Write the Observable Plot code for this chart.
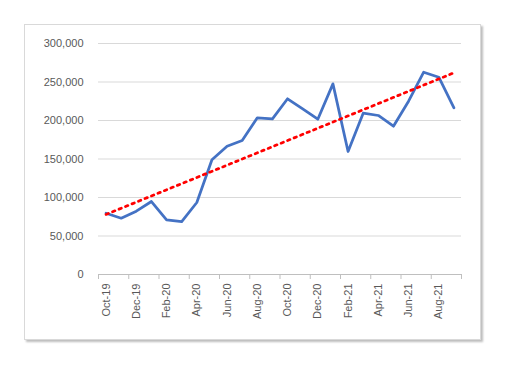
<!DOCTYPE html>
<html>
<head>
<meta charset="utf-8">
<script src="https://cdn.jsdelivr.net/npm/d3@7"></script>
<script src="https://cdn.jsdelivr.net/npm/@observablehq/plot@0.6"></script>
<style>
  html, body { margin: 0; padding: 0; background: #fff; }
  #wrap { position: relative; width: 512px; height: 369px; }
  #frame { position: absolute; left: 24px; top: 24px; width: 455px; height: 314px;
           border: 1px solid #d9d9d9; box-shadow: 2px 2px 2px #bdbdbd; background: #fff; }
  #chart { position: absolute; left: 0; top: 0; }
</style>
</head>
<body>
<div id="wrap"><div id="frame"></div><div id="chart"></div></div>
<script>
const months = ["Oct-19","Nov-19","Dec-19","Jan-20","Feb-20","Mar-20","Apr-20","May-20","Jun-20","Jul-20","Aug-20","Sep-20",
                "Oct-20","Nov-20","Dec-20","Jan-21","Feb-21","Mar-21","Apr-21","May-21","Jun-21","Jul-21","Aug-21","Sep-21"];
const values = [79600, 73100, 82200, 94800, 71000, 68800, 93500, 149000, 166600, 174000, 203500, 202200,
                228200, 215200, 201700, 247600, 159700, 209500, 206500, 192600, 225100, 262700, 256200, 216500];
const yTicks = [0, 50000, 100000, 150000, 200000, 250000, 300000];
const labelIdx = months.map((d, i) => i).filter(i => i % 2 === 0);
const boundaries = d3.range(-0.5, 24, 2);

const data = months.map((m, i) => ({i, month: m, value: values[i]}));

const chart = Plot.plot({
  width: 512,
  height: 369,
  marginLeft: 98,
  marginRight: 51,
  marginTop: 43,
  marginBottom: 95,
  style: {fontFamily: "'Liberation Sans', Arial, sans-serif", fontSize: "11px", color: "#595959", background: "transparent"},
  x: {type: "linear", domain: [-0.5, 23.5]},
  y: {domain: [0, 300000]},
  marks: [
    Plot.gridY(yTicks, {stroke: "#d9d9d9", strokeOpacity: 1}),
    Plot.ruleY([0], {stroke: "#bfbfbf"}),
    Plot.axisY(yTicks, {tickSize: 0, tickPadding: 15, tickFormat: d3.format(","), label: null, fill: "#595959", fontSize: 11}),
    Plot.axisX(boundaries, {tickSize: 5, stroke: "#bfbfbf", tickFormat: () => "", label: null}),
    Plot.axisX(labelIdx, {tickSize: 0, tickPadding: 9, tickRotate: -90, tickFormat: i => months[i], label: null, fill: "#595959", fontSize: 11}),
    Plot.line(data, {x: "i", y: "value", stroke: "#4472C4", strokeWidth: 2.75, strokeLinejoin: "round", strokeLinecap: "round"}),
    Plot.linearRegressionY(data, {x: "i", y: "value", ci: 0, stroke: "#ff0000", strokeWidth: 2.75, strokeDasharray: "2.5,4.5"})
  ]
});
document.getElementById("chart").appendChild(chart);
</script>
</body>
</html>
